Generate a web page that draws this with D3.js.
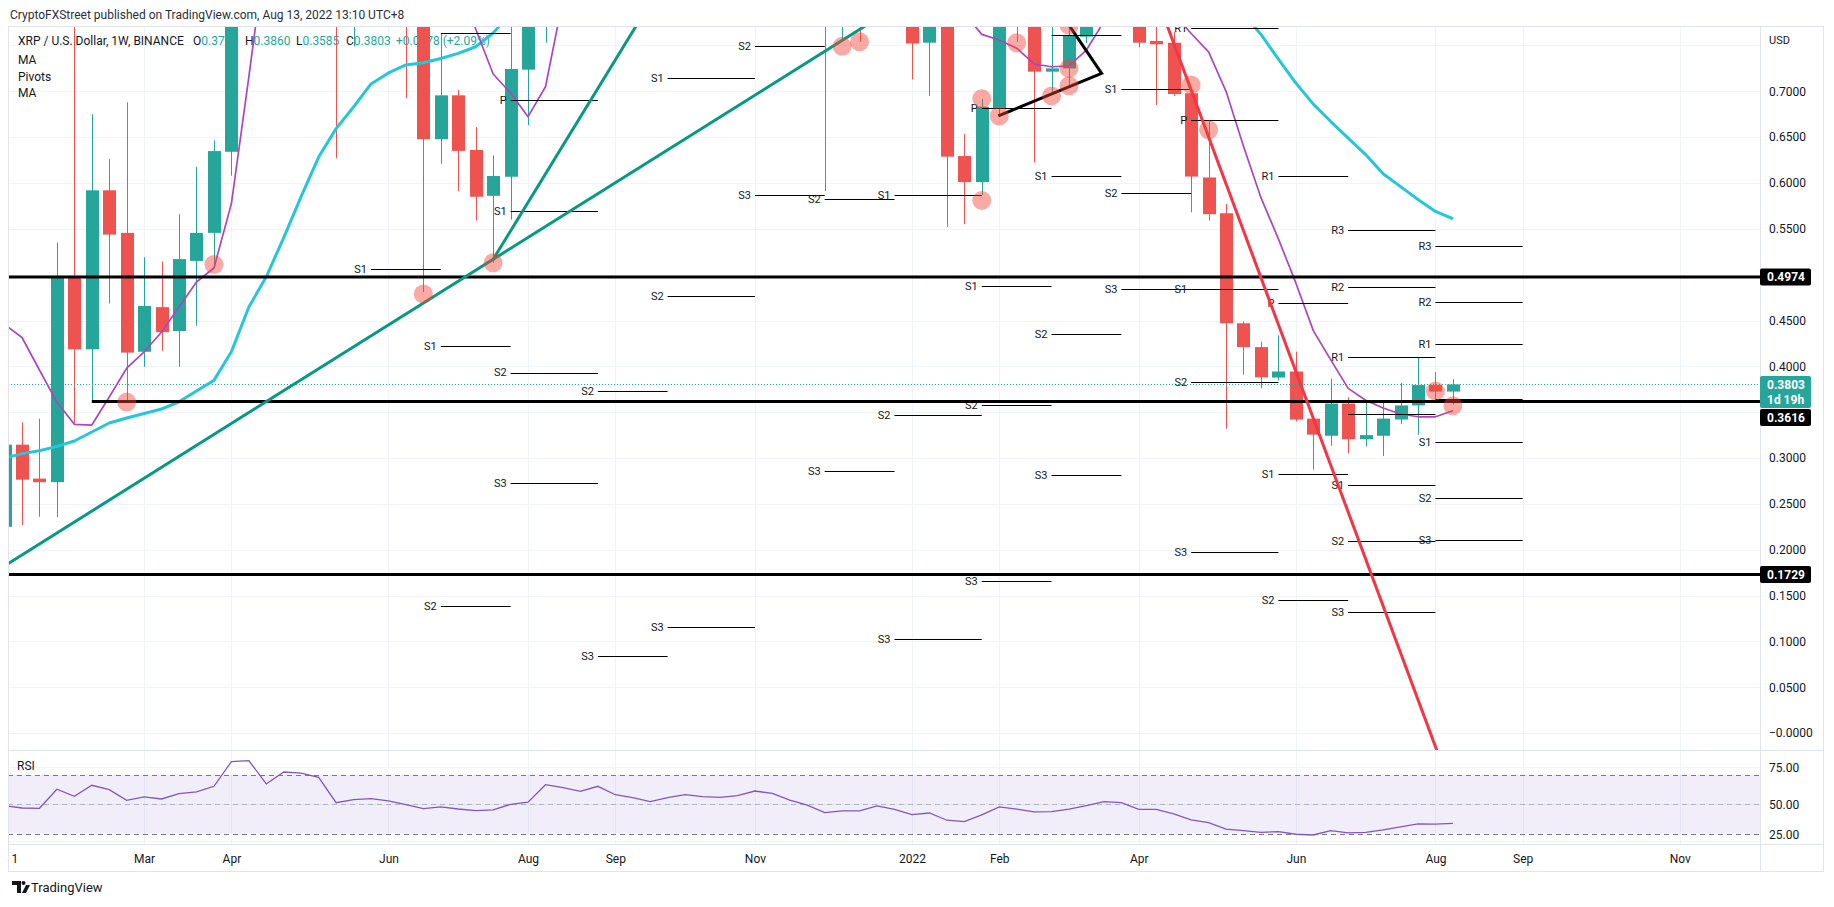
<!DOCTYPE html>
<html>
<head>
<meta charset="utf-8">
<script src="https://cdn.jsdelivr.net/npm/d3@7/dist/d3.min.js"></script>
<style>
html,body{margin:0;padding:0;background:#ffffff;overflow:hidden;}
svg{display:block;}
text{font-family:Roboto,"Noto Sans",Arial,sans-serif;}
</style>
</head>
<body>
<svg id="chart" width="1834" height="907"></svg>
<script>
// ================= DATA (XRP/USD weekly, BINANCE) =================
const _ = null;                 // bar fully outside the visible price range
const firstBarIndex = -1;       // bar 0 = week of 2021-01-11, bar -1 = week of 2021-01-04
const openPrices = [0.2250,
 0.3146,0.2776,0.2737,0.4965,0.4186,0.5920,0.5456,0.4159,0.4646,0.4385,
 0.5150,0.5456,0.6340,_,_,_,_,_,1.5000,0.8500,
 _,_,0.8800,0.8000,0.6477,0.6956,0.6360,0.5860,0.6068,0.7236,
 0.8200,_,_,_,_,_,_,_,_,_,
 _,_,_,_,_,_,0.9800,0.7900,0.8300,_,
 _,0.8400,0.7530,0.7900,0.6294,0.6010,0.6815,0.8300,0.8000,0.7214,
 0.7250,0.7596,_,_,0.8100,0.7549,0.7530,0.6978,0.6060,0.5670,
 0.4470,0.4210,0.3878,0.3944,0.3430,0.3243,0.3594,0.3205,0.3243,0.3420,
 0.3574,0.3796,0.3725];
const highPrices = [0.3330,
 0.3390,0.3430,0.5350,0.7800,0.6750,0.6263,0.6880,0.5190,0.5144,0.5659,
 0.6177,0.6465,1.4700,_,_,_,_,_,1.5600,1.0700,
 _,_,0.9400,0.8200,0.7633,0.7014,0.6610,0.6300,0.7850,0.8300,
 1.3000,_,_,_,_,_,_,_,_,_,
 _,_,_,_,_,_,1.0400,0.8800,0.8600,_,
 _,0.8600,0.8100,0.8000,0.6534,0.6916,0.9100,0.8700,0.8200,0.8000,
 0.7800,0.8400,_,_,0.8300,0.7900,0.7650,0.7000,0.6680,0.5770,
 0.4490,0.4270,0.4340,0.4160,0.3440,0.3867,0.3664,0.3602,0.3613,0.3820,
 0.4100,0.3937,0.3860];
const lowPrices = [0.2120,
 0.2270,0.2360,0.2355,0.3380,0.3613,0.4685,0.3613,0.3995,0.4170,0.3995,
 0.4443,0.5105,0.6080,_,_,_,_,_,0.6270,0.7490,
 _,_,0.6925,0.4810,0.6210,0.5910,0.5590,0.5130,0.5600,0.6632,
 0.7530,_,_,_,_,_,_,_,_,_,
 _,_,_,_,_,_,0.5910,0.7570,0.7540,_,
 _,0.7130,0.6949,0.5520,0.5550,0.5870,0.6723,0.7541,0.6224,0.6978,
 0.7069,0.7524,_,_,0.7480,0.6851,0.6949,0.5680,0.5590,0.3320,
 0.3910,0.3760,0.3847,0.3400,0.2873,0.3134,0.3050,0.3127,0.3021,0.3370,
 0.3255,0.3633,0.3585];
const closePrices = [0.3146,
 0.2764,0.2737,0.4965,0.4186,0.5920,0.5437,0.4150,0.4658,0.4373,0.5170,
 0.5456,0.6348,1.3800,_,_,_,_,_,0.8500,0.9800,
 _,_,0.8000,0.6477,0.6956,0.6350,0.5850,0.6076,0.7244,0.8200,
 1.2300,_,_,_,_,_,_,_,_,_,
 _,_,_,_,_,_,0.8400,0.8300,0.7900,_,
 _,0.7521,0.7900,0.6287,0.6010,0.6832,0.8300,0.8000,0.7214,0.7250,
 0.7603,0.8200,_,_,0.7530,0.7513,0.6970,0.6070,0.5660,0.4470,
 0.4210,0.3880,0.3944,0.3420,0.3255,0.3594,0.3205,0.3250,0.3430,0.3574,
 0.3796,0.3725,0.3803];

// moving averages (null where far outside the view)
const maFast = [0.4457,
 0.4315,0.3960,0.3610,0.3368,0.3360,0.3666,0.3980,0.4159,0.4375,0.4647,
 0.4920,0.5073,0.5775,0.7158,0.8600,_,_,_,_,_,
 _,_,_,_,_,0.8200,0.7680,0.7189,0.6981,0.6723,
 0.7050,0.8000,_,_,_,_,_,_,_,_,
 _,_,_,_,_,_,_,_,_,_,
 _,_,_,_,0.7850,0.7621,0.7560,0.7470,0.7298,0.7268,
 0.7276,0.7450,0.7760,_,_,_,0.7850,0.7630,0.7430,0.7000,
 0.6400,0.5840,0.5390,0.4910,0.4390,0.4070,0.3760,0.3630,0.3546,0.3480,
 0.3450,0.3450,0.3516];
const maSlow = [0.3000,
 0.3048,0.3080,0.3127,0.3186,0.3284,0.3382,0.3437,0.3485,0.3535,0.3613,
 0.3731,0.3847,0.4159,0.4647,0.4977,0.5405,0.5854,0.6283,0.6593,0.6829,
 0.7080,0.7200,0.7287,0.7312,0.7358,0.7414,0.7486,0.7636,0.7850,_,
 _,_,_,_,_,_,_,_,_,_,
 _,_,_,_,_,_,_,_,_,_,
 _,_,_,_,_,_,_,_,_,_,
 _,_,_,_,_,_,_,_,_,_,
 0.7850,0.7620,0.7350,0.7090,0.6860,0.6670,0.6490,0.6310,0.6100,0.5960,
 0.5820,0.5690,0.5610];
const rsiValues = [49.0,
 47.5,47.3,60.2,55.4,62.9,59.9,52.7,55.0,53.6,57.2,
 58.4,62.2,78.9,79.6,63.8,71.9,71.2,68.3,51.1,53.2,
 53.8,52.3,49.8,47.1,48.2,46.8,45.7,46.2,50.0,51.4,
 63.3,61.3,58.8,62.2,56.5,54.5,51.8,54.5,56.5,55.2,
 54.7,55.9,59.0,57.4,52.9,49.5,44.4,45.5,45.5,48.9,
 46.6,43.0,44.1,39.2,38.3,42.8,48.2,46.8,44.8,45.0,
 46.8,49.1,51.8,51.1,46.6,46.6,43.5,39.4,37.6,33.1,
 32.2,31.0,31.5,29.7,29.2,32.2,30.6,31.0,32.6,34.7,
 36.7,36.5,37.1];

// monthly pivot points: label, first bar, last bar, price
const pivotLabels = ["S1","","S1","S2","P","S1","S2","S3","S2","S3","S1","S2","S3","S2","S3","S2","S3",
 "S1","S2","S3","P","S1","S2","S3","","S1","S2","S3","S1","S2","S3","R1","P","S1","S2","S3",
 "R1","P","S1","S2","R3","R2","R1","","S1","S2","S3","R3","R2","R1","","S1","S2","S3"];
const pivotFrom = [20,24,24,24,28,28,28,28,33,33,37,37,37,42,42,46,46,
 50,50,50,55,55,55,55,59,59,59,59,63,63,63,67,67,67,67,67,
 72,72,72,72,76,76,76,76,76,76,76,81,81,81,81,81,81,81];
const pivotTo = [24,28,28,28,33,33,33,33,37,37,42,42,42,46,46,50,50,
 55,55,55,59,59,59,59,63,63,63,63,67,67,67,72,72,72,72,72,
 76,76,76,76,81,81,81,81,81,81,81,86,86,86,86,86,86,86];
const pivotPrices = [0.5062,0.7634,0.4218,0.1386,0.6905,0.5698,0.3933,0.2729,0.3730,0.0841,0.7146,0.4763,0.1157,0.7490,0.5873,0.5822,0.2862,
 0.5873,0.3469,0.1026,0.6819,0.4872,0.3574,0.1658,0.7618,0.6080,0.4354,0.2815,0.7022,0.5889,0.4840,0.7695,0.6683,0.4840,0.3829,0.1977,
 0.6080,0.4696,0.2822,0.1450,0.5483,0.4868,0.4100,0.3477,0.2706,0.2095,0.1320,0.5316,0.4704,0.4248,0.3640,0.3175,0.2562,0.2106];

// horizontal key levels
const levelPrices = [0.4974, 0.3616, 0.1729];
const levelFromBar = [-2, 4, -2];

// drawn trend lines [bar, price]
const trendUpLong = [[-2, 0.1705], [49, 0.7794]];
const trendUpSteep = [[26.96, 0.5155], [35.5, 0.7808]];
const trendDown = [[65.4, 0.7832], [81.3, -0.0301]];
const zigzag = [[55.95, 0.6731], [61.87, 0.7196], [59.57, 0.7842]];

// highlight circles
const markerBars = [6, 11, 23, 27, 47, 48, 55, 56, 55, 57, 59, 60, 60, 60, 67, 68, 81, 82];
const markerPrices = [0.361, 0.511, 0.479, 0.513, 0.749, 0.754, 0.692, 0.673, 0.581, 0.753, 0.695, 0.706, 0.725, 0.772, 0.707, 0.658, 0.373, 0.357];

// axes
const timeTickBars = [-1, 7, 12, 21, 29, 34, 42, 51, 56, 64, 73, 81, 86, 95];
const timeTickLabels = ["1","Mar","Apr","Jun","Aug","Sep","Nov","2022","Feb","Apr","Jun","Aug","Sep","Nov"];
const priceGridLevels = [0,0.05,0.10,0.15,0.20,0.25,0.30,0.35,0.40,0.45,0.50,0.55,0.60,0.65,0.70,0.75];
const priceLabelLevels = [0,0.05,0.10,0.15,0.20,0.25,0.30,0.40,0.45,0.55,0.60,0.65,0.70];
const rsiLabelLevels = [75, 50, 25];
const rsiBands = [70, 50, 30];

// ================= LAYOUT =================
const svg = d3.select("#chart");
const L = 8, R = 1760, T = 26, B = 750, RB = 844, AB = 871, AR = 1823;
const x = d3.scaleLinear().domain([0, 82]).range([22, 22 + 82 * 17.45]);
const y = d3.scaleLinear().domain([0, 0.7]).range([733.1, 91.3]);
const yr = d3.scaleLinear().domain([30, 70]).range([833.8, 774.8]);
const up = "#26a69a", dn = "#ef5350", ink = "#131722";
const gridC = "#f0f3fa", borderC = "#e0e3eb";
const px = v => Math.round(v) + 0.5;

const defs = svg.append("defs");
defs.append("clipPath").attr("id", "clipMain").append("rect").attr("x", L).attr("y", T).attr("width", R - L).attr("height", B - T);
defs.append("clipPath").attr("id", "clipRsi").append("rect").attr("x", L).attr("y", B).attr("width", R - L).attr("height", RB - B);

svg.append("rect").attr("width", 1834).attr("height", 907).attr("fill", "#fff");

// title
svg.append("text").attr("x", 10).attr("y", 19).attr("font-size", 12).attr("fill", "#2a2e39")
  .text("CryptoFXStreet published on TradingView.com, Aug 13, 2022 13:10 UTC+8");

// ---------- grid ----------
const grid = svg.append("g");
grid.selectAll("line.h").data(priceGridLevels).join("line")
  .attr("x1", L).attr("x2", R).attr("y1", d => px(y(d))).attr("y2", d => px(y(d)))
  .attr("stroke", gridC).attr("clip-path", "url(#clipMain)");
grid.selectAll("line.v").data(timeTickBars.filter(d => x(d) > L)).join("line")
  .attr("x1", d => px(x(d))).attr("x2", d => px(x(d))).attr("y1", T).attr("y2", RB)
  .attr("stroke", gridC);
grid.selectAll("line.r").data(rsiLabelLevels).join("line")
  .attr("x1", L).attr("x2", R).attr("y1", d => px(yr(d))).attr("y2", d => px(yr(d)))
  .attr("stroke", gridC).attr("clip-path", "url(#clipRsi)");

// ---------- legend (drawn under the candles, as in the reference) ----------
const leg = svg.append("g").attr("font-size", 12);
leg.append("text").attr("x", 18).attr("y", 45).attr("fill", ink).text("XRP / U.S. Dollar, 1W, BINANCE");
const li = openPrices.length - 1;
const ohlc = [["O", openPrices[li]], ["H", highPrices[li]], ["L", lowPrices[li]], ["C", closePrices[li]]];
const ohlcX = [193, 245, 296, 346];
ohlc.forEach(([lab, v], i) => {
  const t = leg.append("text").attr("x", ohlcX[i]).attr("y", 45);
  t.append("tspan").attr("fill", ink).text(lab);
  t.append("tspan").attr("fill", up).text(v.toFixed(4));
});
const chg = closePrices[li] - closePrices[li - 1];
leg.append("text").attr("x", 396).attr("y", 45).attr("fill", up)
  .text((chg >= 0 ? "+" : "") + chg.toFixed(4) + " (" + (chg >= 0 ? "+" : "") + (chg / closePrices[li - 1] * 100).toFixed(2) + "%)");
["MA", "Pivots", "MA"].forEach((s, i) => leg.append("text").attr("x", 18).attr("y", 64 + i * 16.5).attr("fill", ink).text(s));

// ---------- main pane ----------
const gMain = svg.append("g").attr("clip-path", "url(#clipMain)");
const bars = openPrices.map((o, i) => ({k: firstBarIndex + i, o, h: highPrices[i], l: lowPrices[i], c: closePrices[i]}))
  .filter(d => d.o != null);

gMain.append("g").selectAll("line").data(bars).join("line")
  .attr("x1", d => px(x(d.k))).attr("x2", d => px(x(d.k)))
  .attr("y1", d => y(d.h)).attr("y2", d => y(d.l))
  .attr("stroke", d => d.c >= d.o ? up : dn).attr("stroke-width", 1);
gMain.append("g").selectAll("rect").data(bars).join("rect")
  .attr("x", d => Math.round(x(d.k)) - 6).attr("width", 13)
  .attr("y", d => y(Math.max(d.o, d.c)))
  .attr("height", d => Math.max(1.5, Math.abs(y(d.o) - y(d.c))))
  .attr("fill", d => d.c >= d.o ? up : dn);

// current price dotted line
gMain.append("line").attr("x1", L).attr("x2", R)
  .attr("y1", px(y(closePrices[li]))).attr("y2", px(y(closePrices[li])))
  .attr("stroke", up).attr("stroke-dasharray", "1,2");

// moving averages
const maLine = d3.line().defined(d => d != null).x((d, i) => x(firstBarIndex + i)).y(d => y(d));
gMain.append("path").attr("d", maLine(maSlow)).attr("fill", "none").attr("stroke", "#26c6da").attr("stroke-width", 3).attr("stroke-linejoin", "round");
gMain.append("path").attr("d", maLine(maFast)).attr("fill", "none").attr("stroke", "#ab47bc").attr("stroke-width", 1.7).attr("stroke-linejoin", "round");

// pivots
const pivots = pivotLabels.map((lab, i) => ({lab, a: pivotFrom[i], b: pivotTo[i], p: pivotPrices[i]}));
const gPiv = gMain.append("g");
gPiv.selectAll("line").data(pivots).join("line")
  .attr("x1", d => x(d.a)).attr("x2", d => x(d.b))
  .attr("y1", d => px(y(d.p))).attr("y2", d => px(y(d.p)))
  .attr("stroke", "#000").attr("stroke-width", 1);
gPiv.selectAll("text").data(pivots.filter(d => d.lab)).join("text")
  .attr("x", d => x(d.a) - 4).attr("y", d => y(d.p)).attr("dy", "0.36em")
  .attr("text-anchor", "end").attr("font-size", 11).attr("fill", ink).text(d => d.lab);

// key horizontal levels
gMain.append("g").selectAll("line").data(levelPrices).join("line")
  .attr("x1", (d, i) => x(levelFromBar[i])).attr("x2", R)
  .attr("y1", d => y(d)).attr("y2", d => y(d))
  .attr("stroke", "#000").attr("stroke-width", 3);

// trend lines
const tl = d3.line().x(d => x(d[0])).y(d => y(d[1]));
gMain.append("path").attr("d", tl(trendUpLong)).attr("stroke", "#089981").attr("stroke-width", 3).attr("fill", "none");
gMain.append("path").attr("d", tl(trendUpSteep)).attr("stroke", "#089981").attr("stroke-width", 3).attr("fill", "none");
gMain.append("path").attr("d", tl(trendDown)).attr("stroke", "#f23645").attr("stroke-width", 3).attr("fill", "none");
gMain.append("path").attr("d", tl(zigzag)).attr("stroke", "#000").attr("stroke-width", 3).attr("fill", "none").attr("stroke-linejoin", "miter");

// markers
gMain.append("g").selectAll("circle").data(markerBars).join("circle")
  .attr("cx", d => x(d)).attr("cy", (d, i) => y(markerPrices[i])).attr("r", 9.5)
  .attr("fill", "#f44336").attr("fill-opacity", 0.45);

// ---------- RSI pane ----------
const gR = svg.append("g").attr("clip-path", "url(#clipRsi)");
gR.append("rect").attr("x", L).attr("width", R - L).attr("y", yr(70)).attr("height", yr(30) - yr(70)).attr("fill", "rgba(126,87,194,0.1)");
gR.selectAll("line.b").data(rsiBands).join("line")
  .attr("x1", L).attr("x2", R).attr("y1", d => px(yr(d))).attr("y2", d => px(yr(d)))
  .attr("stroke", d => d === 50 ? "#b2b5be" : "#787b86").attr("stroke-dasharray", "5,4");
gR.append("path").attr("d", d3.line().x((d, i) => x(firstBarIndex + i)).y(d => yr(d))(rsiValues))
  .attr("fill", "none").attr("stroke", "#7e57c2").attr("stroke-width", 1.3);
svg.append("text").attr("x", 17).attr("y", 770).attr("font-size", 12).attr("fill", ink).text("RSI");

// ---------- frame ----------
const fr = svg.append("g").attr("stroke", borderC).attr("fill", "none");
fr.append("rect").attr("x", L + 0.5).attr("y", T + 0.5).attr("width", AR - L).attr("height", AB - T);
fr.append("line").attr("x1", px(R)).attr("x2", px(R)).attr("y1", T).attr("y2", AB);
fr.append("line").attr("x1", L).attr("x2", AR).attr("y1", px(B)).attr("y2", px(B));
fr.append("line").attr("x1", L).attr("x2", AR).attr("y1", px(RB)).attr("y2", px(RB));

// ---------- price axis ----------
const pa = svg.append("g").attr("transform", `translate(${R},0)`)
  .call(d3.axisRight(y).tickValues(priceLabelLevels).tickSize(0).tickPadding(9)
    .tickFormat(d => d === 0 ? "\u22120.0000" : d.toFixed(4)));
pa.select(".domain").remove();
pa.selectAll("text").attr("font-size", 12).attr("fill", ink).attr("font-family", "Roboto,'Noto Sans',sans-serif");
svg.append("text").attr("x", 1769).attr("y", 44).attr("font-size", 11).attr("fill", ink).text("USD");

// rsi axis
const ra = svg.append("g").attr("font-size", 12).attr("fill", ink);
ra.selectAll("text").data(rsiLabelLevels).join("text")
  .attr("x", 1769).attr("y", d => Math.min(yr(d), 835)).attr("dy", "0.35em").text(d => d.toFixed(2));

// value boxes
function box(cy, fill, lines) {
  const h = 17 * lines.length - (lines.length - 1) * 2;
  svg.append("rect").attr("x", R).attr("y", cy - 8.5).attr("width", 51).attr("height", h).attr("rx", 2).attr("fill", fill);
  lines.forEach((s, i) => svg.append("text").attr("x", 1767).attr("y", cy + i * 15).attr("dy", "0.36em")
    .attr("font-size", 12).attr("font-weight", "bold").attr("fill", "#fff").text(s));
}
box(y(levelPrices[0]), "#000", [levelPrices[0].toFixed(4)]);
box(y(closePrices[li]), up, [closePrices[li].toFixed(4), "1d 19h"]);
box(y(closePrices[li]) + 33, "#000", [levelPrices[1].toFixed(4)]);
box(y(levelPrices[2]), "#000", [levelPrices[2].toFixed(4)]);

// ---------- time axis ----------
const ta = svg.append("g").attr("transform", `translate(0,${RB})`)
  .call(d3.axisBottom(x).tickValues(timeTickBars).tickSize(0).tickPadding(10)
    .tickFormat((d, i) => timeTickLabels[i]));
ta.select(".domain").remove();
ta.selectAll("text").attr("font-size", 12).attr("fill", ink).attr("font-family", "Roboto,'Noto Sans',sans-serif");
// first label sits at the clipped left edge of the pane
ta.selectAll(".tick").filter(d => x(d) < L + 4).select("text")
  .attr("text-anchor", "start").attr("x", d => 11 - x(d));

// ---------- TradingView logo ----------
const lg = svg.append("g").attr("fill", ink);
lg.append("path").attr("d", "M12 881h9v12h-4v-8h-5z");
lg.append("circle").attr("cx", 23.5).attr("cy", 883).attr("r", 2);
lg.append("path").attr("d", "M22 893l4-8h4l-4 8z");
svg.append("text").attr("x", 31).attr("y", 892).attr("font-size", 13).attr("fill", ink).text("TradingView");
</script>
</body>
</html>
